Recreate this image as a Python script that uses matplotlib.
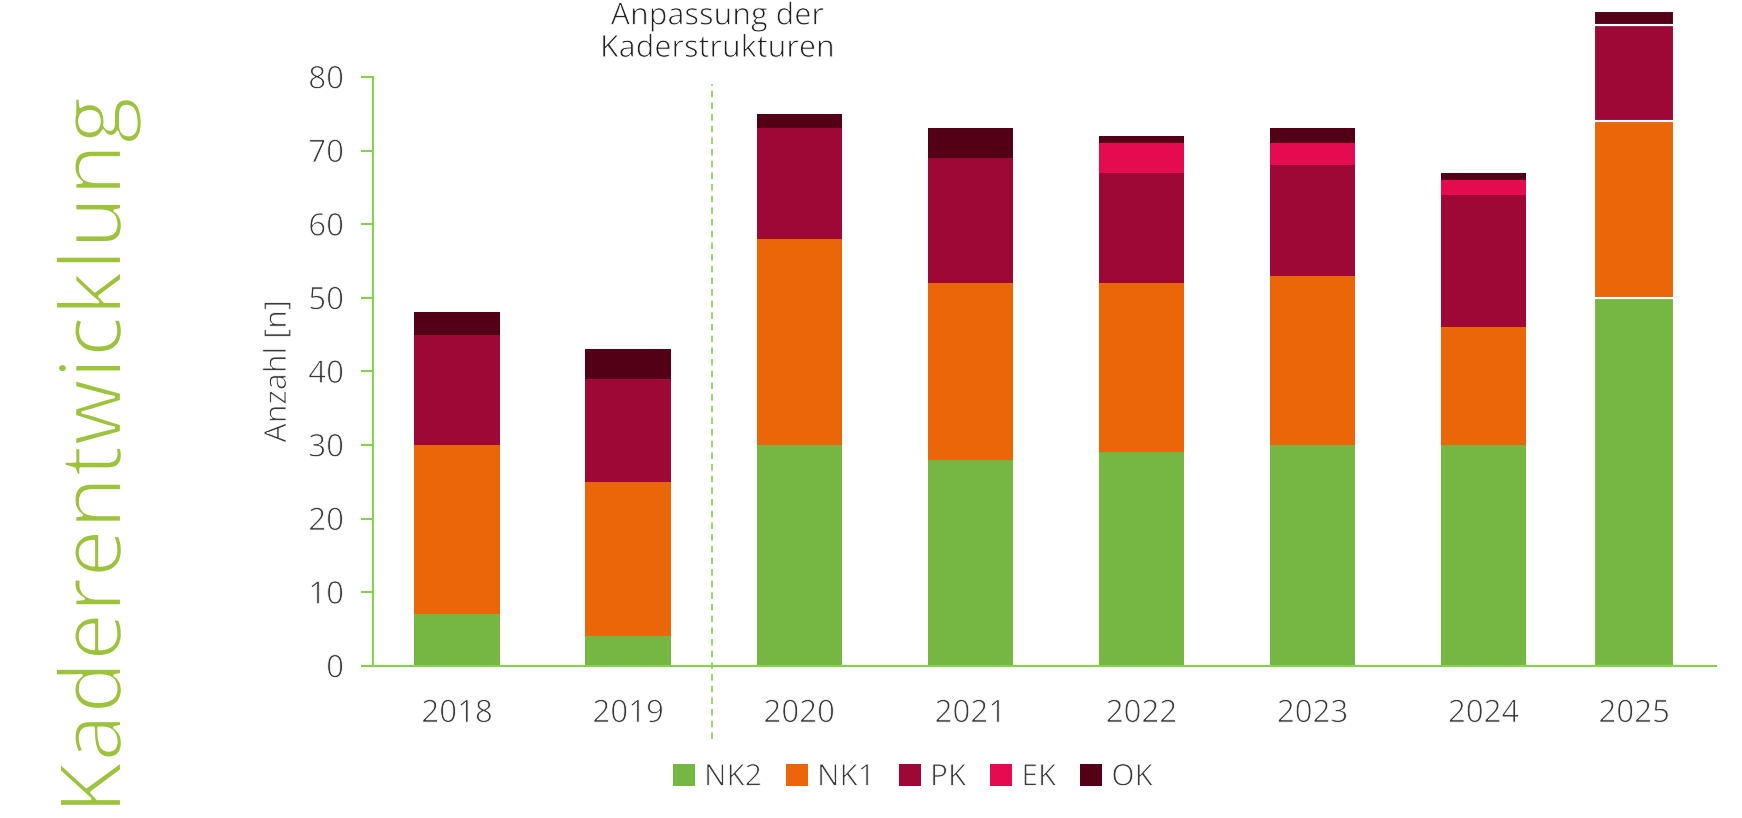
import numpy as np
import matplotlib
matplotlib.use("Agg")
import matplotlib.pyplot as plt
import matplotlib.patheffects as pe
from matplotlib.patches import Patch

# ============================= Data ============================= #
years = ["2018", "2019", "2020", "2021", "2022", "2023", "2024", "2025"]
nk2 = [7, 4, 30, 28, 29, 30, 30, 50]
nk1 = [23, 21, 28, 24, 23, 23, 16, 24]
pk  = [15, 14, 15, 17, 15, 15, 18, 13]
ek  = [0, 0, 0, 0, 4, 3, 2, 0]
ok  = [3, 4, 2, 4, 1, 2, 1, 2]
series_names = ["NK2", "NK1", "PK", "EK", "OK"]
colors = ["#76b744", "#ea6608", "#9e0836", "#e40b50", "#530016"]

green_axis = "#86d24c"
txt = "#3a3a3a"

plt.rcParams['font.family'] = ['Open Sans', 'DejaVu Sans']
# only Open Sans regular is installed -> thin the glyphs a bit with a white outline
thin = [pe.Stroke(linewidth=0.6, foreground="white")]

fig = plt.figure(figsize=(17.42, 8.18), dpi=100)
ax = fig.add_axes([0.2143, 0.1861, 0.9853 - 0.2143, 0.906 - 0.1861])

x = np.arange(len(years), dtype=float)
x[-1] = 6.88  # last bar sits a bit to the left in the original

bottom = np.zeros(len(years))
for name, vals, c in zip(series_names, [nk2, nk1, pk, ek, ok], colors):
    vals = np.array(vals, dtype=float)
    ax.bar(x[:-1], vals[:-1], 0.5, bottom=bottom[:-1], color=c, linewidth=0)
    # 2025 bar drawn with white separators
    ax.bar(x[-1:], vals[-1:], 0.47, bottom=bottom[-1:], color=c,
           edgecolor="white", linewidth=1.5, clip_on=False)
    bottom += vals

ax.set_xlim(-0.49, 7.36)
ax.set_ylim(0, 80)
ax.set_yticks(range(0, 81, 10))
ax.set_xticks(x)
ax.set_xticklabels(years)

for s in ["top", "right"]:
    ax.spines[s].set_visible(False)
for s in ["left", "bottom"]:
    ax.spines[s].set_color(green_axis)
    ax.spines[s].set_linewidth(1.5)

ax.tick_params(axis="y", colors=green_axis, length=9, width=1.5, labelsize=22.5,
               labelcolor=txt, pad=12)
ax.tick_params(axis="x", length=0, labelsize=22.5, labelcolor=txt, pad=24)
ax.set_ylabel("Anzahl [n]", fontsize=22, color=txt, labelpad=11, path_effects=thin)
for lab in ax.get_xticklabels() + ax.get_yticklabels():
    lab.set_path_effects(thin)

# dashed separator
ax.plot([1.49, 1.49], [-10, 79], linestyle=(0, (4, 3)), color=green_axis,
        linewidth=1.2, clip_on=False)
ax.text(1.52, 86.0, "Anpassung der\nKaderstrukturen", ha="center", va="center",
        fontsize=22, color="#222222", linespacing=1.1, clip_on=False,
        path_effects=thin)

# big title
fig.text(0.0568, 0.443, "Kaderentwicklung", rotation=90, ha="center", va="center",
         fontsize=62, color="#9dc33c",
         path_effects=[pe.Stroke(linewidth=1.8, foreground="white")])

handles = [Patch(facecolor=c, edgecolor="none") for c in colors]
leg = fig.legend(handles, series_names, loc="center", bbox_to_anchor=(0.524, 0.049),
                 ncol=5, frameon=False, fontsize=21.5, handlelength=0.75,
                 handleheight=0.75, handletextpad=0.3, columnspacing=0.8,
                 labelcolor=txt)
for t in leg.get_texts():
    t.set_path_effects(thin)

fig.savefig("out.png", dpi=100)
